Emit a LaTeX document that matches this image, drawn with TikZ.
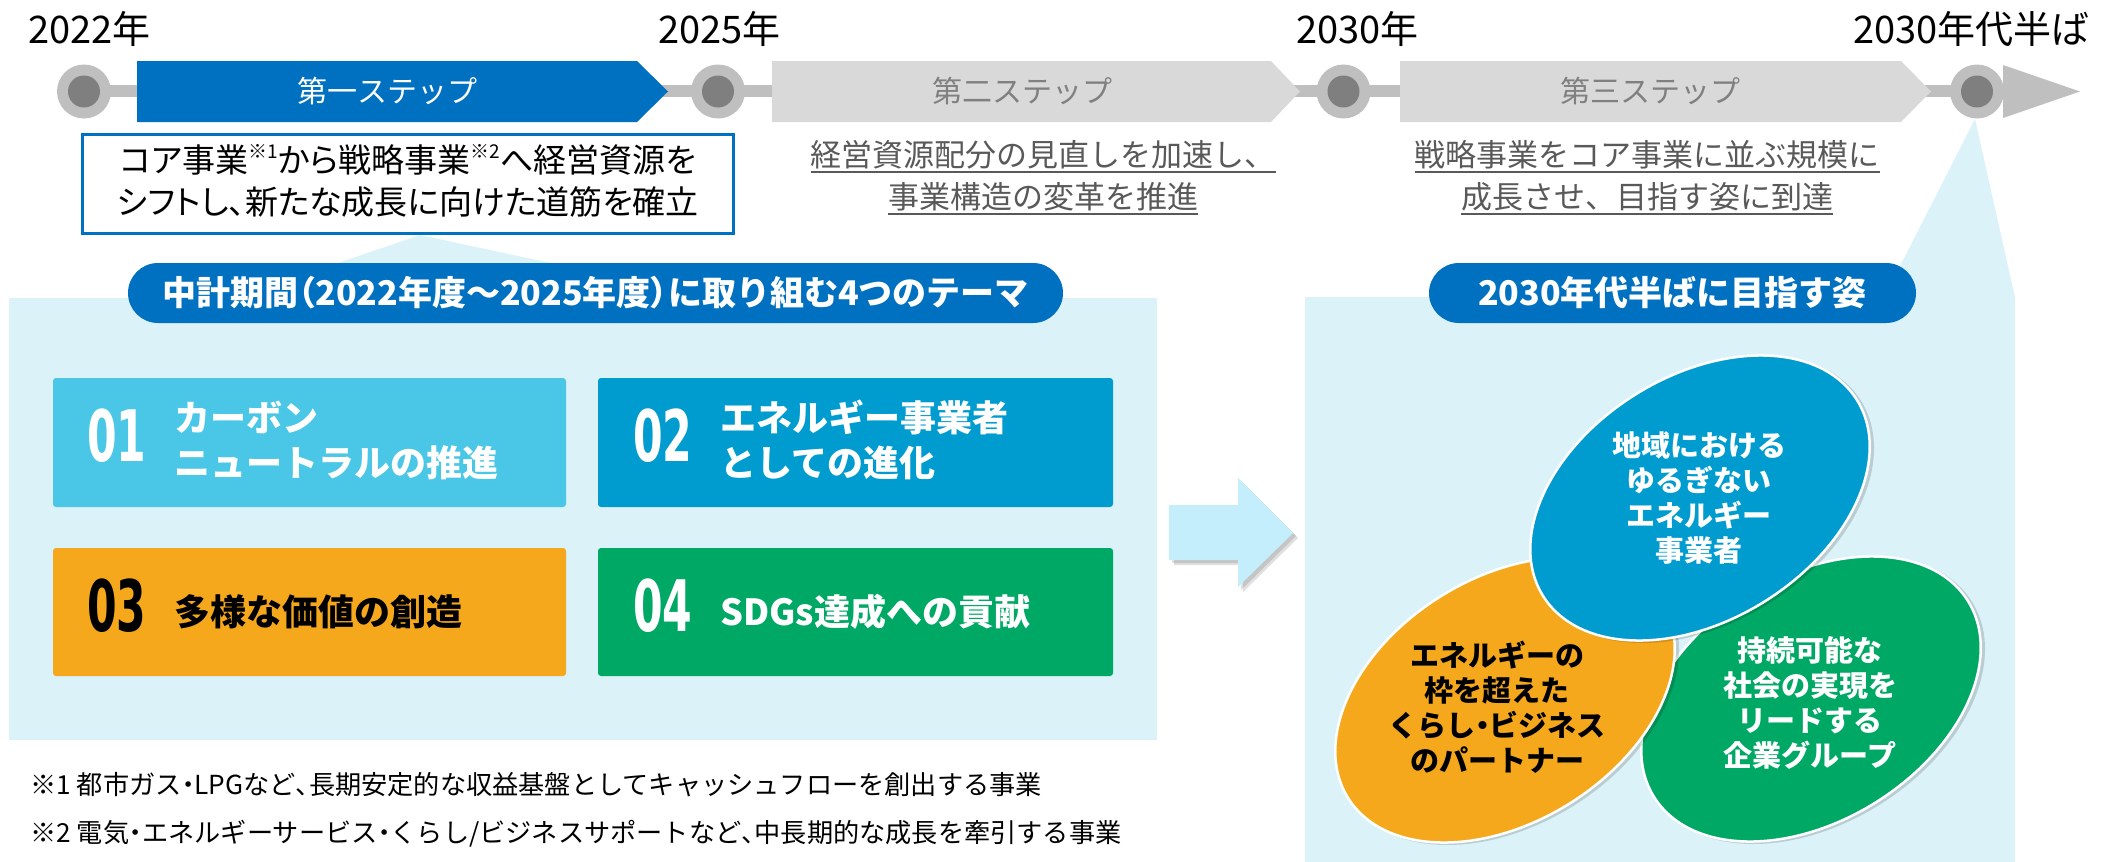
\documentclass[tikz,border=0pt]{standalone}
\usepackage{graphicx}
\usepackage{fontspec}
\setmainfont{Noto Sans CJK JP}
\newfontfamily\pfont{Noto Sans CJK JP}[RawFeature=+palt]
\newfontfamily\numfont{DejaVu Sans}
\newcommand\pp[1]{{\pfont #1}}
\newcommand\uline[1]{\setbox0\hbox{#1}\rlap{\rule[-0.2em]{\wd0}{2.2pt}}\box0}
\definecolor{mblue}{HTML}{0070C0}
\definecolor{panel}{HTML}{DAF2F8}
\definecolor{tcyan}{HTML}{4AC6E6}
\definecolor{tblue}{HTML}{009CD0}
\definecolor{torange}{HTML}{F5A81C}
\definecolor{tgreen}{HTML}{00A865}
\definecolor{arrowblue}{HTML}{C4EEFB}
\definecolor{lgrey}{HTML}{BFBFBF}
\definecolor{dgrey}{HTML}{7F7F7F}
\definecolor{stepgrey}{HTML}{D9D9D9}
\definecolor{txtgrey}{HTML}{808080}
\definecolor{descgrey}{HTML}{595959}
\newcommand\supmark[1]{\raisebox{0.42em}{\fontsize{19}{19}\selectfont #1}}
\begin{document}
\begin{tikzpicture}[x=1pt,y=-1pt,
  yr/.style={font=\fontsize{38}{38}\selectfont, inner sep=0pt},
  stepname/.style={font=\fontsize{30}{30}\selectfont, inner sep=0pt},
  desc/.style={font=\fontsize{31}{42}\selectfont, text=descgrey, align=center, inner sep=0pt},
  pill/.style={fill=mblue, rounded corners=30pt, minimum height=60pt, inner sep=0pt, text=white, font=\bfseries\fontsize{34}{34}\selectfont},
  themebox/.style={rounded corners=3pt, inner sep=0pt},
  num/.style={font=\numfont\bfseries\fontsize{71}{71}\selectfont, inner sep=0pt, anchor=west},
  ttext/.style={font=\bfseries\fontsize{36}{45}\selectfont, align=left, inner sep=0pt, anchor=west},
  fn/.style={font=\fontsize{26.2}{26}\selectfont, inner sep=0pt, anchor=west},
  etext/.style={font=\bfseries\fontsize{29}{35}\selectfont, align=center, inner sep=0pt},
  dot/.style={circle, fill=lgrey, minimum size=54pt, inner sep=0pt,
    path picture={\fill[dgrey] (path picture bounding box.center) circle (16pt);}},
  ell/.style={draw=white, line width=2.5pt}
]
\useasboundingbox (0,0) rectangle (2102,862);
% background panels and wedges
\fill[panel] (9,298) rectangle (1157,740);
\fill[panel] (1305,297) rectangle (2015,862);
\fill[panel] (420,235) -- (234,298.5) -- (716,298.5) -- cycle;
\fill[panel] (1975,119) -- (1884,297.5) -- (2015,297.5) -- cycle;
% timeline
\fill[lgrey] (84,85) rectangle (2010,97);
\fill[lgrey] (2003,65) -- (2080,91.5) -- (2003,118) -- cycle;
\fill[mblue] (137,61) -- (637,61) -- (668,91.5) -- (637,122) -- (137,122) -- cycle;
\fill[stepgrey] (772,61) -- (1271,61) -- (1300,91.5) -- (1271,122) -- (772,122) -- cycle;
\fill[stepgrey] (1400,61) -- (1901,61) -- (1931,91.5) -- (1901,122) -- (1400,122) -- cycle;
\node[stepname, text=white] (s1) at (387,91) {第一ステップ};
\node[stepname, text=txtgrey] (s2) at (1022,91) {第二ステップ};
\node[stepname, text=txtgrey] (s3) at (1650,91) {第三ステップ};
\node[dot] (c1) at (84,91.5) {};
\node[dot] (c2) at (718,91.5) {};
\node[dot] (c3) at (1343.5,91.5) {};
\node[dot] (c4) at (1977,91.5) {};
% years
\node[yr, anchor=west] (y1) at (28,29) {2022年};
\node[yr, anchor=west] (y2) at (658,29) {2025年};
\node[yr, anchor=west] (y3) at (1296,29) {2030年};
\node[yr, anchor=east] (y4) at (2090,29) {2030年代半ば};
% step descriptions
\node[draw=mblue, line width=3pt, fill=white, minimum width=651pt, minimum height=99pt, inner sep=0pt] (box) at (407.5,183.5) {};
\node[font=\pfont\fontsize{33}{42}\selectfont, align=center, inner sep=0pt] (boxtxt) at (408,181)
  {コア事業\supmark{※1}から戦略事業\supmark{※2}へ経営資源を\\シフトし、新たな成長に向けた道筋を確立};
\node[desc] (d2) at (1043,178) {\uline{経営資源配分の見直しを加速し、}\\\uline{事業構造の変革を推進}};
\node[desc] (d3) at (1647,178) {\uline{戦略事業をコア事業に並ぶ規模に}\\\uline{成長させ、目指す姿に到達}};
% pills
\node[pill, minimum width=935pt] (p1) at (595.5,293) {中計期間\pp{（}2022年度～2025年度\pp{）}に取り組む4つのテーマ};
\node[pill, minimum width=487pt] (p2) at (1672.5,293) {2030年代半ばに目指す姿};
% theme boxes
\node[themebox, fill=tcyan, minimum width=513pt, minimum height=129pt] (t1) at (309.5,442.5) {};
\node[themebox, fill=tblue, minimum width=515pt, minimum height=129pt] (t2) at (855.5,442.5) {};
\node[themebox, fill=torange, minimum width=513pt, minimum height=128pt] (t3) at (309.5,612) {};
\node[themebox, fill=tgreen, minimum width=515pt, minimum height=128pt] (t4) at (855.5,612) {};
\node[num, text=white] (n1) at (87,436) {\scalebox{0.6}[1]{01}};
\node[num, text=white] (n2) at (633,436) {\scalebox{0.6}[1]{02}};
\node[num, text=black] (n3) at (87,606) {\scalebox{0.6}[1]{03}};
\node[num, text=white] (n4) at (633,606) {\scalebox{0.6}[1]{04}};
\node[ttext, text=white] (x1) at (174,440) {カーボン\\ニュートラルの推進};
\node[ttext, text=white] (x2) at (720,440) {エネルギー事業者\\としての進化};
\node[ttext, text=black] (x3) at (174,612) {多様な価値の創造};
\node[ttext, text=white] (x4) at (720,612) {SDGs達成への貢献};
% footnotes
\node[fn] (f1) at (30,785) {※1 都市ガス\pp{・}LPGなど\pp{、}長期安定的な収益基盤としてキャッシュフローを創出する事業};
\node[fn] (f2) at (30,834) {※2 電気\pp{・}エネルギーサービス\pp{・}くらし/ビジネスサポートなど\pp{、}中長期的な成長を牽引する事業};
% big arrow
\fill[black, opacity=0.12, shift={(5,5)}] (1169,505) -- (1238,505) -- (1238,478) -- (1293,533) -- (1238,587) -- (1238,560) -- (1169,560) -- cycle;
\fill[black, opacity=0.12, shift={(3,3)}] (1169,505) -- (1238,505) -- (1238,478) -- (1293,533) -- (1238,587) -- (1238,560) -- (1169,560) -- cycle;
\fill[arrowblue] (1169,505) -- (1238,505) -- (1238,478) -- (1293,533) -- (1238,587) -- (1238,560) -- (1169,560) -- cycle;
% ellipses
\begin{scope}[shift={(1811,699)}, rotate=32]
  \fill[black, opacity=0.15] (2,3) ellipse [x radius=186, y radius=123];
  \filldraw[ell, fill=tgreen] (0,0) ellipse [x radius=185, y radius=122];
\end{scope}
\begin{scope}[shift={(1505,700)}, rotate=32]
  \fill[black, opacity=0.15] (2,3) ellipse [x radius=186, y radius=123];
  \filldraw[ell, fill=torange] (0,0) ellipse [x radius=185, y radius=122];
\end{scope}
\begin{scope}[shift={(1700,498)}, rotate=32]
  \fill[black, opacity=0.15] (2,3) ellipse [x radius=186, y radius=123];
  \filldraw[ell, fill=tblue] (0,0) ellipse [x radius=185, y radius=122];
\end{scope}
\node[etext, text=white] (e1) at (1699,498) {地域における\\ゆるぎない\\エネルギー\\事業者};
\node[etext, text=black] (e2) at (1497,707) {エネルギーの\\枠を超えた\\くらし\pp{・}ビジネス\\のパートナー};
\node[etext, text=white] (e3) at (1810,703) {持続可能な\\社会の実現を\\リードする\\企業グループ};
\end{tikzpicture}
\end{document}
